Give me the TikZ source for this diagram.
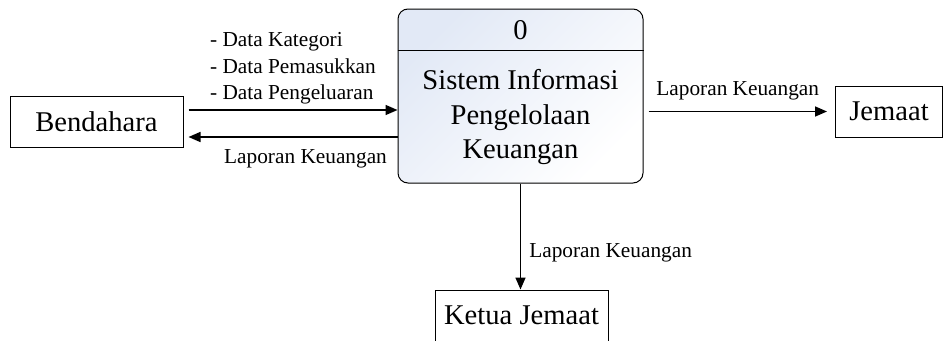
\documentclass[tikz,border=0pt]{standalone}
\usepackage{fontspec}
\setmainfont{Liberation Serif}
\usetikzlibrary{arrows.meta,positioning,calc}
\definecolor{procblue}{HTML}{E2E9F6}
\newcommand\smallfont{\fontsize{21.3}{26.5}\selectfont}
\newcommand\bigfont{\fontsize{28.6}{34.5}\selectfont}
\tikzset{
    entity/.style={draw, fill=white, line width=1pt, inner sep=0pt,
        minimum width=173pt, minimum height=51pt, font=\bigfont},
    process/.style={draw, line width=1pt, rounded corners=10pt,
        minimum width=245pt, minimum height=174pt,
        top color=procblue, bottom color=white, shading angle=45},
    flow/.style={line width=1.6pt, -{Triangle[length=12pt, width=10pt]}},
    flowlabel/.style={font=\smallfont, inner sep=2pt}
}
\begin{document}
\begin{tikzpicture}[x=1pt, y=1pt]
    % Fix the page size
    \useasboundingbox (0,0) rectangle (944,-340);
    \clip (0,0) rectangle (944,-340);

    % Process and external entities
    \node[process] (proc) at (520.5,-96) {};
    \draw[line width=1pt] ([yshift=-42pt]proc.north west) -- ([yshift=-42pt]proc.north east);
    \node[font=\bigfont] (pnum) at (520.5,-30) {0};
    \node[font=\bigfont, align=center] (pname) at (520.5,-117.5)
        {Sistem Informasi\\Pengelolaan\\Keuangan};
    \node[entity] (bend) at (96.5,-121.5) {Bendahara};
    \node[entity, minimum width=107pt] (jem) at (889,-111.5) {Jemaat};
    \node[entity] (ketua) at (521.5,-315.5) {Ketua Jemaat};

    % Data flows
    \draw[flow] ([xshift=5pt, yshift=11.5pt]bend.east) -- ([yshift=11.5pt]bend.east -| proc.west)
        node[midway, above=3pt, flowlabel, align=left]
        {- Data Kategori\\- Data Pemasukkan\\- Data Pengeluaran};
    \draw[flow] ([yshift=-15.5pt]bend.east -| proc.west) -- ([xshift=5pt, yshift=-15.5pt]bend.east)
        node[pos=0.44, below=10pt, flowlabel] {Laporan Keuangan};
    \draw[flow] ([xshift=5pt]proc.east |- jem.west) -- ([xshift=-8pt]jem.west)
        node[midway, above=9pt, flowlabel] {Laporan Keuangan};
    \draw[flow] (proc.south) -- (proc.south |- ketua.north)
        node[pos=0.65, right=6pt, flowlabel] {Laporan Keuangan};
\end{tikzpicture}
\end{document}
